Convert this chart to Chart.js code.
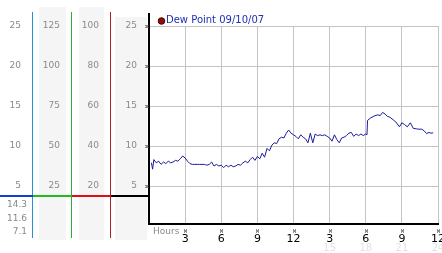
<!DOCTYPE html>
<html>
<head>
<meta charset="utf-8">
<script src="https://cdn.jsdelivr.net/npm/chart.js@4"></script>
<style>
  html, body { margin: 0; padding: 0; background: #fff; }
  #wrap { width: 442px; height: 253px; }
</style>
</head>
<body>
<div id="wrap"><canvas id="dewChart" width="442" height="253"></canvas></div>
<script>
const seriesLabel = 'Dew Point 09/10/07'

const hours = [
  0.2, 0.3, 0.4, 0.6, 0.8, 1.0, 1.2, 1.4, 1.6, 1.8, 2.0, 2.2, 2.4, 2.6, 2.8, 3.0,
  3.2, 3.4, 3.6, 3.8, 4.0, 4.2, 4.4, 4.6, 4.8, 5.0, 5.2, 5.4, 5.6, 5.8, 6.0,
  6.2, 6.4, 6.6, 6.8, 7.0, 7.2, 7.4, 7.6, 7.8, 8.0, 8.2, 8.4, 8.6, 8.8, 9.0,
  9.2, 9.4, 9.6, 9.8, 10.0, 10.2, 10.4, 10.6, 10.8, 11.0, 11.2, 11.4, 11.6, 11.8,
  12.0, 12.2, 12.4, 12.6, 12.8, 13.0, 13.2, 13.4, 13.6, 13.8, 14.0, 14.2, 14.4, 14.6, 14.8,
  15.0, 15.2, 15.4, 15.6, 15.8, 16.0, 16.2, 16.4, 16.6, 16.8, 17.0, 17.2, 17.4, 17.6, 17.8,
  18.0, 18.1, 18.15, 18.4, 18.7, 19.0, 19.2, 19.4, 19.6, 19.8, 20.0, 20.3, 20.5, 20.8,
  21.0, 21.2, 21.45, 21.7, 21.95, 22.2, 22.4, 22.65, 22.85, 23.05, 23.25, 23.4, 23.6
]

const dewPoint = [
  7.9, 7.1, 8.3, 7.9, 8.1, 7.7, 8.0, 7.8, 8.1, 7.9, 8.0, 8.2, 8.1, 8.4, 8.75, 8.5,
  8.1, 7.8, 7.7, 7.7, 7.7, 7.7, 7.7, 7.7, 7.6, 7.7, 8.0, 7.5, 7.7, 7.5, 7.6,
  7.3, 7.6, 7.4, 7.6, 7.4, 7.5, 7.7, 7.6, 7.9, 8.1, 7.9, 8.3, 8.6, 8.2, 8.7,
  8.4, 9.1, 8.6, 9.7, 9.4, 10.1, 10.4, 10.3, 10.9, 11.1, 11.0, 11.6, 12.0, 11.6,
  11.4, 11.2, 10.9, 11.4, 11.1, 10.9, 10.4, 11.6, 10.4, 11.5, 11.3, 11.4, 11.3, 11.4, 11.2,
  11.0, 10.6, 11.4, 10.8, 10.4, 11.0, 11.1, 11.3, 11.6, 11.7, 11.2, 11.5, 11.3, 11.5, 11.3,
  11.5, 11.4, 13.2, 13.5, 13.75, 13.9, 13.8, 14.2, 14.0, 13.7, 13.6, 13.25, 13.0, 12.4,
  12.9, 12.7, 12.4, 12.9, 12.2, 12.15, 12.1, 12.1, 11.9, 11.55, 11.7, 11.6, 11.65
]

// tick values of the plot axis; the side columns show the same rows scaled
const yTicks = [5, 10, 15, 20, 25]
const xTicks = [3, 6, 9, 12, 15, 18, 21, 24]
const hourLabels = ['3', '6', '9', '12', '3', '6', '9', '12']
const hourLabels24 = ['', '', '', '', '15', '18', '21', '24']
const readings = ['14.3', '11.6', '7.1']
const baseLevel = 3.75

const labelFont = { family: 'DejaVu Sans', size: 9 }

function sideAxis(factor, width, weight) {
  return {
    type: 'linear',
    position: 'left',
    weight: weight,
    min: 0.25 * factor,
    max: 25 * factor,
    grid: { display: false, drawTicks: false },
    border: { display: false },
    ticks: { color: '#8a8a8a', font: labelFont, padding: 12, autoSkip: false },
    afterBuildTicks: s => { s.ticks = yTicks.map(v => ({ value: v * factor })) },
    afterFit: s => { s.width = width; s.paddingTop = 0; s.paddingBottom = 0 },
  }
}

// little checkered tick marks like the original
function mark(ctx, x, y) {
  ctx.fillRect(x - 1.5, y - 1.5, 1, 1)
  ctx.fillRect(x + 0.5, y - 1.5, 1, 1)
  ctx.fillRect(x - 0.5, y - 0.5, 1, 1)
  ctx.fillRect(x - 1.5, y + 0.5, 1, 1)
  ctx.fillRect(x + 0.5, y + 0.5, 1, 1)
}

const panelDecor = {
  id: 'panelDecor',
  beforeDraw(chart) {
    const { ctx, scales } = chart
    ctx.save()
    ctx.fillStyle = '#f5f5f5'
    const bands = [['y2', 6, 6, 7], ['y3', 7, 7, 7], ['y', 4, 2, 17]]
    bands.forEach(([id, inL, inR, top]) => {
      const s = scales[id]
      ctx.fillRect(s.left + inL, top, s.width - inL - inR, 240 - top)
    })
    ctx.restore()
  },
  afterDraw(chart) {
    const { ctx, scales, chartArea } = chart
    const y = scales.y
    const x = scales.x
    ctx.save()

    // column dividers and the base line across the side panel
    const cols = [
      ['y1', '#2a8fd0', '#1040d0'],
      ['y2', '#33aa33', '#22bb22'],
      ['y3', '#b02020', '#e01010'],
      ['y', '#000000', '#000000'],
    ]
    const baseY = y.getPixelForValue(baseLevel)
    let prev = 0
    cols.forEach(([id, vCol, hCol]) => {
      const s = scales[id]
      const isPlot = id === 'y'
      ctx.strokeStyle = vCol
      ctx.lineWidth = isPlot ? 2 : 1
      ctx.beginPath()
      ctx.moveTo(s.right - (isPlot ? 0 : 0.5), isPlot ? 13 : 12)
      ctx.lineTo(s.right - (isPlot ? 0 : 0.5), isPlot ? chartArea.bottom + 1 : 238)
      ctx.stroke()
      ctx.strokeStyle = hCol
      ctx.lineWidth = 2
      ctx.beginPath()
      ctx.moveTo(prev, baseY)
      ctx.lineTo(s.right, baseY)
      ctx.stroke()
      prev = s.right
    })

    // tick marks
    ctx.fillStyle = '#222'
    yTicks.forEach(v => mark(ctx, chartArea.left - 2, Math.round(y.getPixelForValue(v)) + 0.5))
    xTicks.forEach(v => mark(ctx, Math.round(x.getPixelForValue(v)) + 0.5, 231))

    // readings under the first column
    ctx.font = '9px "DejaVu Sans"'
    ctx.fillStyle = '#8a8a8a'
    ctx.textAlign = 'right'
    ctx.textBaseline = 'middle'
    readings.forEach((t, i) => ctx.fillText(t, 27, 205 + i * 13.5))

    // axis caption
    ctx.textAlign = 'left'
    ctx.fillText('Hours', chartArea.left + 4, 232)

    // faint 24h labels
    ctx.fillStyle = '#e2e2e2'
    ctx.textAlign = 'center'
    ctx.font = '10px "DejaVu Sans"'
    xTicks.forEach((v, i) => {
      if (hourLabels24[i]) ctx.fillText(hourLabels24[i], x.getPixelForValue(v), 248)
    })

    // legend
    ctx.fillStyle = '#8b1010'
    ctx.strokeStyle = '#4a0000'
    ctx.lineWidth = 1
    ctx.beginPath()
    ctx.arc(161.5, 21, 3.3, 0, Math.PI * 2)
    ctx.fill()
    ctx.stroke()
    ctx.fillStyle = '#1c2fb5'
    ctx.textAlign = 'left'
    ctx.font = '10px "DejaVu Sans"'
    ctx.fillText(seriesLabel, 166, 20.5)

    ctx.restore()
  },
}

new Chart(document.getElementById('dewChart').getContext('2d'), {
  type: 'line',
  data: {
    datasets: [
      {
        label: seriesLabel,
        data: hours.map((h, i) => ({ x: h, y: dewPoint[i] })),
        borderColor: '#1a1a9c',
        borderWidth: 1,
        pointRadius: 0,
        tension: 0,
        fill: false,
      },
    ],
  },
  options: {
    responsive: false,
    animation: false,
    devicePixelRatio: 1,
    layout: { padding: { top: 26, right: 4, bottom: 0, left: 0 } },
    plugins: { legend: { display: false }, tooltip: { enabled: false } },
    scales: {
      x: {
        type: 'linear',
        min: 0,
        max: 24,
        grid: { color: '#c4c4c4', drawTicks: false },
        border: { color: '#000', width: 2 },
        ticks: {
          color: '#000',
          font: { family: 'DejaVu Sans', size: 11 },
          padding: 9,
          maxRotation: 0,
          autoSkip: false,
          callback: (v, i) => hourLabels[i],
        },
        afterBuildTicks: s => { s.ticks = xTicks.map(v => ({ value: v })) },
        afterFit: s => { s.height = 29; s.paddingLeft = 0; s.paddingRight = 0 },
      },
      y: {
        type: 'linear',
        position: 'left',
        weight: 0,
        min: 0.25,
        max: 25,
        grid: { color: '#c4c4c4', drawTicks: false },
        border: { display: false },
        ticks: { color: '#8a8a8a', font: labelFont, padding: 12, autoSkip: false },
        afterBuildTicks: s => { s.ticks = yTicks.map(v => ({ value: v })) },
        afterFit: s => { s.width = 38; s.paddingTop = 0; s.paddingBottom = 0 },
      },
      y3: sideAxis(4, 39, 1),
      y2: sideAxis(5, 39, 2),
      y1: sideAxis(1, 33, 3),
    },
  },
  plugins: [panelDecor],
})
</script>
</body>
</html>
